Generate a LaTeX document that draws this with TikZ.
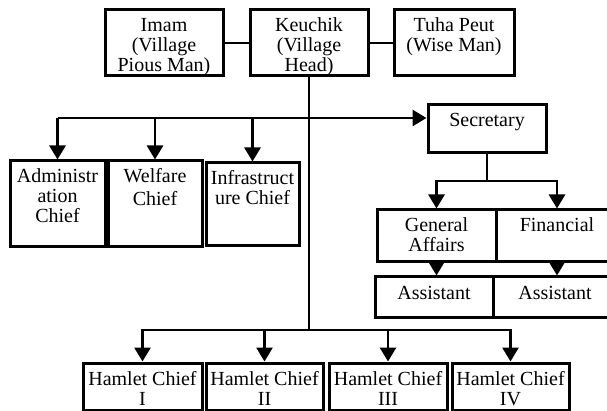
\documentclass[tikz,border=0pt]{standalone}
\usepackage{fontspec}
\setmainfont{Liberation Serif}
\usetikzlibrary{arrows.meta}
\newcommand{\unittext}[3]{\parbox[c][#2][t]{#1}{\centering\rule{0pt}{22pt}#3}}

\begin{document}
\begin{tikzpicture}[x=1pt,y=-1pt,
    unit/.style={draw,line width=3pt,inner sep=0pt,font=\fontsize{20}{20}\selectfont},
    link/.style={line width=2.8pt},
    >={Triangle[length=14pt,width=16pt]}]
  \useasboundingbox (0,0) rectangle (607,411);
  % leaders
  \node[unit] (imam) at (164,43) {\unittext{118pt}{66pt}{Imam\\(Village\\Pious Man)}};
  \node[unit] (keuchik) at (309,43) {\unittext{118pt}{66pt}{Keuchik\\(Village\\Head)}};
  \node[unit] (tuha) at (454,43) {\unittext{120pt}{66pt}{Tuha Peut\\(Wise Man)}};
  \draw[link] (imam.east) -- (keuchik.west);
  \draw[link] (keuchik.east) -- (tuha.west);
  % chiefs
  \node[unit] (admin) at (57.5,204) {\unittext{95pt}{86pt}{Administr\\ation\\Chief}};
  \node[unit] (welfare) at (155,204) {\unittext{94pt}{86pt}{Welfare\\[3pt]Chief}};
  \node[unit] (infra) at (252.5,204.5) {\unittext{93pt}{83pt}{Infrastruct\\ure Chief}};
  % secretary and staff
  \node[unit] (secretary) at (487,129) {\unittext{118pt}{48pt}{Secretary}};
  \node[unit] (genaff) at (436.5,236) {\unittext{119pt}{52pt}{General\\Affairs}};
  \node[unit] (financial) at (557,236) {\unittext{122pt}{52pt}{Financial}};
  \node[unit] (assist1) at (434,297) {\unittext{118pt}{40pt}{Assistant}};
  \node[unit] (assist2) at (555,297) {\unittext{124pt}{40pt}{Assistant}};
  % hamlets
  \node[unit] (ham1) at (142.5,386.5) {\unittext{119pt}{47pt}{Hamlet Chief\\I}};
  \node[unit] (ham2) at (264.5,386.5) {\unittext{117pt}{47pt}{Hamlet Chief\\II}};
  \node[unit] (ham3) at (388,386.5) {\unittext{118pt}{47pt}{Hamlet Chief\\III}};
  \node[unit] (ham4) at (510.5,386.5) {\unittext{117pt}{47pt}{Hamlet Chief\\IV}};
  % connectors
  \coordinate (bar) at (309,118);
  \coordinate (sj) at (487,181);
  \coordinate (hj) at (309,330);
  \draw[link] (keuchik.south) -- (hj);
  \draw[link] (admin.north |- bar) -- (bar);
  \draw[link,->] (bar) -- (bar -| secretary.west);
  \draw[link,->] (admin.north |- bar) -- (admin.north);
  \draw[link,->] (welfare.north |- bar) -- (welfare.north);
  \draw[link,->] (infra.north |- bar) -- (infra.north);
  \draw[link] (secretary.south) -- (sj);
  \draw[link,->] (sj) -| (genaff.north);
  \draw[link,->] (sj) -| (financial.north);
  \draw[link,->] (genaff.south) -- (genaff.south |- assist1.north);
  \draw[link,->] (financial.south) -- (financial.south |- assist2.north);
  \draw[link,->] (hj) -| (ham1.north);
  \draw[link,->] (hj) -| (ham2.north);
  \draw[link,->] (hj) -| (ham3.north);
  \draw[link,->] (hj) -| (ham4.north);
\end{tikzpicture}
\end{document}
